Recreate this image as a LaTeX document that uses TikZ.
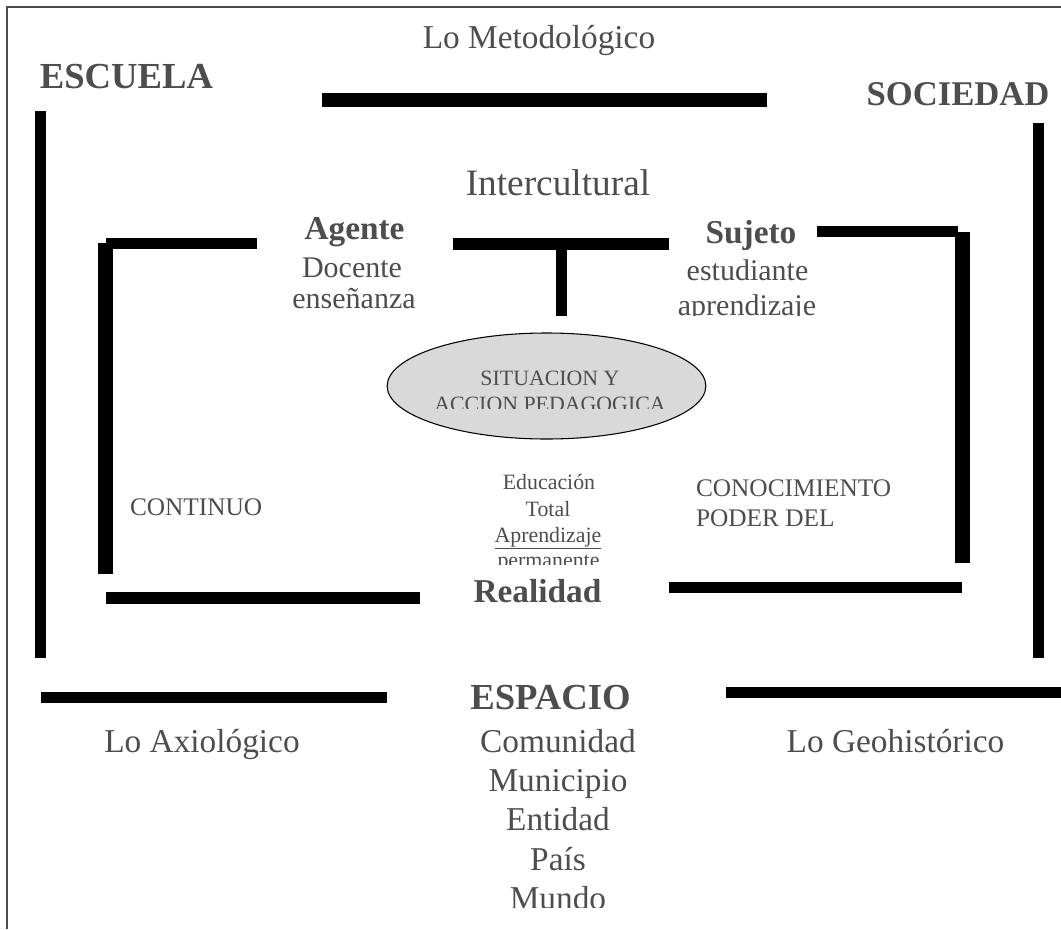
\documentclass[tikz,border=0pt]{standalone}
\usepackage{fontspec}
\setmainfont{Liberation Serif}
\usetikzlibrary{shapes.geometric}
\definecolor{tgray}{RGB}{77,77,77}
\definecolor{ellfill}{RGB}{217,217,217}
\begin{document}
\begin{tikzpicture}[x=0.75pt,y=-0.75pt,
  bar/.style={fill=black},
  lbl/.style={inner sep=0pt, outer sep=0pt, anchor=base, text=tgray},
  tnorm/.style={lbl, font=\fontsize{25}{25}\selectfont},
  tmid/.style={lbl, font=\fontsize{22.5}{22.5}\selectfont},
  tbold/.style={lbl, font=\fontsize{25}{25}\selectfont\bfseries},
  thead/.style={lbl, font=\fontsize{27.5}{27.5}\selectfont\bfseries},
  tcaps/.style={lbl, anchor=base west, font=\fontsize{19}{19}\selectfont},
  tsmall/.style={lbl, font=\fontsize{16.4}{16.4}\selectfont}
]
\useasboundingbox (0,0) rectangle (1061,929);
% frame
\draw[line width=0.8pt, black!70] (7,929) -- (7,7) -- (1061,7);

% bars
\fill[bar] (322,93) rectangle (767,107);
\fill[bar] (35,111) rectangle (46,658);
\fill[bar] (1033,123) rectangle (1044,658);
\fill[bar] (106,238) rectangle (257,249);
\fill[bar] (98,243) rectangle (113,574);
\fill[bar] (453,238) rectangle (669,250);
\fill[bar] (556,249) rectangle (567,316);
\fill[bar] (817,226) rectangle (958,237);
\fill[bar] (955,232) rectangle (970,563);
\fill[bar] (106,592) rectangle (420,604);
\fill[bar] (669,582) rectangle (962,593);
\fill[bar] (41,692) rectangle (387,703);
\fill[bar] (726,687) rectangle (1061,698);

% ellipse
\node[ellipse, draw=black, line width=0.8pt, fill=ellfill, minimum width=239pt, minimum height=79.5pt, inner sep=0pt] (ell) at (546.5,386) {};

% top texts
\node[tnorm] (metod) at (539,48) {Lo Metodológico};
\node[thead] (escuela) at (126.5,88) {ESCUELA};
\node[lbl, font=\fontsize{26}{26}\selectfont\bfseries] (sociedad) at (958,105) {SOCIEDAD};
\node[lbl, font=\fontsize{28}{28}\selectfont] (inter) at (558,195) {Intercultural};

% agente
\node[tbold] (agente) at (354.5,239) {Agente};
\node[tmid] (docente) at (352,277) {Docente};
\node[tmid] (ensen) at (354,308) {enseñanza};

% sujeto
\node[tbold] (sujeto) at (751,243) {Sujeto};
\node[tmid] (estud) at (747.5,280) {estudiante};
\begin{scope}
\clip (660,285) rectangle (840,315);
\node[tmid] (aprend) at (747,315) {aprendizaje};
\end{scope}

% ellipse text
\node[tsmall] (sit) at (550,385) {SITUACION Y};
\begin{scope}
\clip (420,390) rectangle (680,408);
\node[tsmall] (acc) at (550,411) {ACCION PEDAGOGICA};
\end{scope}

% center texts
\node[tsmall] (edu) at (549,489) {Educación};
\node[tsmall] (total) at (548,516) {Total};
\node[tsmall] (aprend2) at (548,542) {\underline{Aprendizaje}};
\begin{scope}
\clip (480,550) rectangle (620,564);
\node[tsmall] (perm) at (548.5,567) {permanente};
\end{scope}
\node[tbold] (realidad) at (537.5,602) {Realidad};

\node[tcaps] (continuo) at (130,515) {CONTINUO};
\node[tcaps] (conoc) at (696,496) {CONOCIMIENTO};
\node[tcaps] (poder) at (696,526) {PODER DEL};

% bottom
\node[thead] (espacio) at (550.5,709) {ESPACIO};
\node[tnorm] (axio) at (202,752) {Lo Axiológico};
\node[tnorm] (geo) at (895.5,752) {Lo Geohistórico};
\node[tnorm] (comun) at (558,752) {Comunidad};
\node[tnorm] (muni) at (558,791) {Municipio};
\node[tnorm] (enti) at (558,830) {Entidad};
\node[tnorm] (pais) at (558,870) {País};
\begin{scope}
\clip (480,875) rectangle (640,907);
\node[tnorm] (mundo) at (558,909) {Mundo};
\end{scope}
\end{tikzpicture}
\end{document}
